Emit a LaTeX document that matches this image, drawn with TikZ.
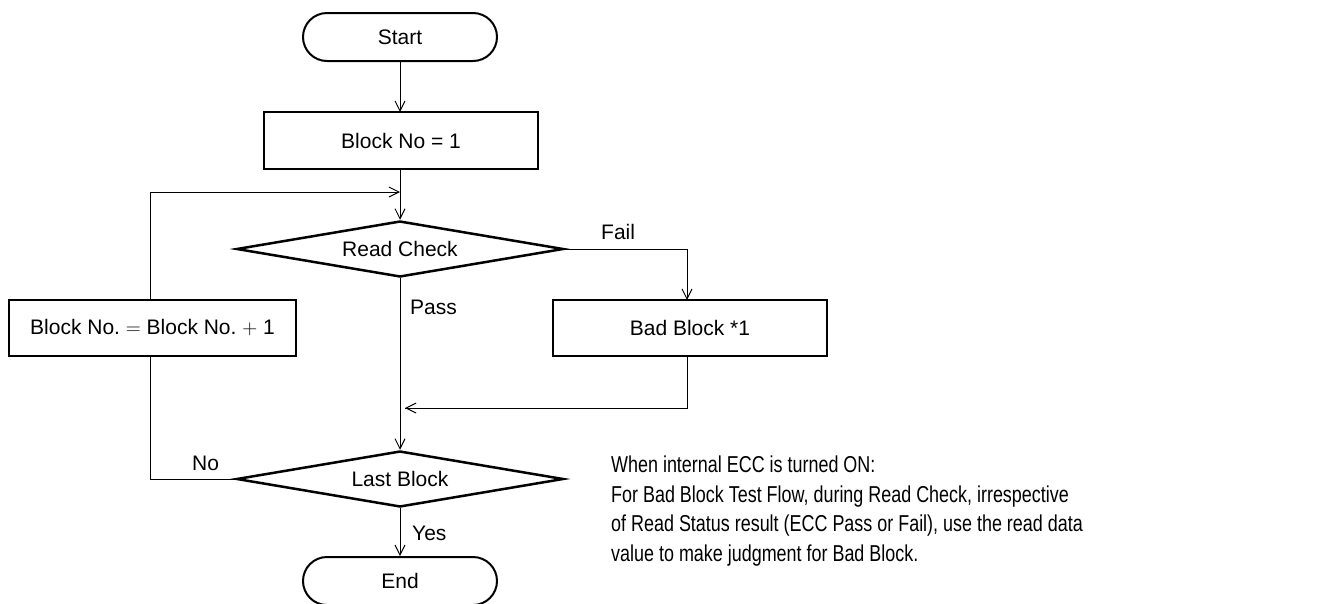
\documentclass[tikz,border=0pt]{standalone}
\usepackage{fontspec}
\setmainfont{Liberation Sans}
\newfontfamily\notefont[FakeStretch=0.78]{Liberation Sans}
\usetikzlibrary{shapes.geometric,shapes.misc,arrows.meta}
\frenchspacing
\begin{document}
\begin{tikzpicture}[x=1pt,y=-1pt,
  font=\fontsize{21}{25}\selectfont,
  term/.style={rounded rectangle, draw, line width=2pt, minimum width=194pt, minimum height=48pt, inner sep=0pt},
  proc/.style={rectangle, draw, line width=2.5pt, inner sep=0pt},
  decide/.style={diamond, draw, line width=2.5pt, inner sep=0pt, aspect=5.84, minimum width=327pt, minimum height=56pt},
  conn/.style={line width=1pt},
  arr/.style={conn, -{Straight Barb[length=10pt,width=10pt,line width=1pt]}},
  lbl/.style={inner sep=0pt}
]
\clip (0,0) rectangle (1323,603);
\node[term] (start) at (400,37) {Start};
\node[proc, minimum width=274pt, minimum height=57pt] (b1) at (401,140.5) {Block No = 1};
\node[decide] (rc) at (400,249) {Read Check};
\node[proc, minimum width=287pt, minimum height=56pt] (inc) at (152.5,328) {Block No. $=$ Block No. $+$ 1};
\node[proc, minimum width=274pt, minimum height=56pt] (bad) at (690,328) {Bad Block *1};
\node[decide] (lb) at (400,479) {Last Block};
\node[term] (end) at (400,581) {End};

\coordinate (loopin) at (400,192);
\coordinate (merge) at (405,408);

\draw[arr] (start) -- (400,112);
\draw[arr] (b1.south -| 400,0) -- (rc.north);
\draw[arr] (150,300) |- (loopin);
\draw[arr] (rc.east) -| (687,300);
\draw[conn] (687,356) |- (merge);
\draw[arr] (687,408) -- (merge);
\draw[arr] (rc.south) -- (lb.north);
\draw[conn] (lb.west) -| (150,356);
\draw[arr] (lb.south) -- (end.north);

\node[lbl, anchor=west] (fail) at (601,232) {Fail};
\node[lbl, anchor=west] (pass) at (410,307) {Pass};
\node[lbl, anchor=west] (no) at (192,463) {No};
\node[lbl, anchor=west] (yes) at (412,533) {Yes};

\node[lbl, anchor=north west, align=left, font=\notefont\fontsize{23}{29.5}\selectfont] (note) at (611,456)
{When internal ECC is turned ON:\\
For Bad Block Test Flow, during Read Check, irrespective\\
of Read Status result (ECC Pass or Fail), use the read data\\
value to make judgment for Bad Block.};
\end{tikzpicture}
\end{document}
